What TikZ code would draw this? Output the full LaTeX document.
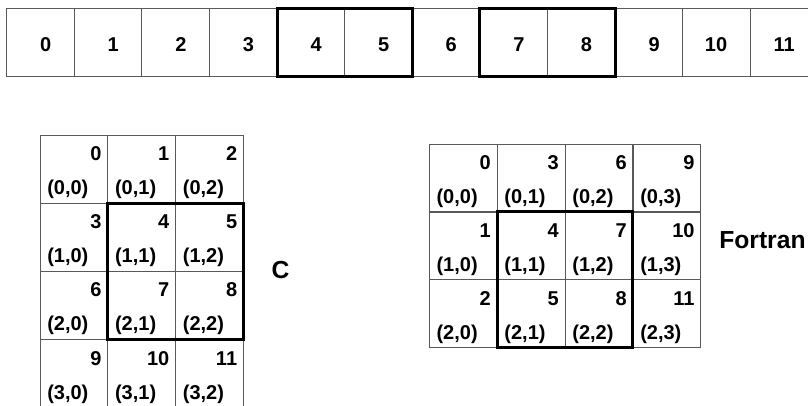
\documentclass[tikz,border=0pt]{standalone}
\usepackage{fontspec}
\setmainfont{Liberation Sans}[BoldFont={Liberation Sans Bold}]
\usetikzlibrary{fit,positioning}
\tikzset{
  cellbox/.style={draw=black!65,line width=0.75pt,minimum width=50.85pt,minimum height=51pt,inner sep=0pt,outer sep=0pt},
  rowcell/.style={cellbox,minimum width=50.7pt,minimum height=51.3pt},
  numlbl/.style={inner sep=0pt,font=\bfseries\fontsize{15}{17}\selectfont},
  idxlbl/.style={numlbl},
  rowlbl/.style={inner sep=0pt,font=\bfseries\fontsize{15}{17}\selectfont},
  hibox/.style={draw=black,line width=2.25pt,inner sep=0pt},
  langlbl/.style={inner sep=0pt,font=\bfseries\fontsize{18.5}{21}\selectfont},
}
\begin{document}
\begin{tikzpicture}[x=0.75pt,y=-0.75pt]
  \useasboundingbox (0,0) rectangle (808,405);
  \clip (0,0) rectangle (808,405);
  % memory as one row
  \foreach \i in {0,...,11}{
    \node[rowcell] (m\i) at (40.5+67.6*\i,42.5) {};
    \node[rowlbl,anchor=east] (mn\i) at ([xshift=8.25pt,yshift=-1.5pt]m\i.center) {\i};
  }
  \node[hibox,fit=(m4)(m5)] (mb1) {};
  \node[hibox,fit=(m7)(m8)] (mb2) {};
  % row-major (C)
  \foreach \r in {0,...,3}
    \foreach \c in {0,...,2}{
      \pgfmathtruncatemacro\n{3*\r+\c}
      \node[cellbox] (c\r\c) at (73.9+67.8*\c,169+68.1*\r) {};
      \node[numlbl,anchor=base east] (cn\r\c) at ([xshift=-4.5pt,yshift=-19.3pt]c\r\c.north east) {\n};
      \node[idxlbl,anchor=base west] (ci\r\c) at ([xshift=5.25pt,yshift=6.2pt]c\r\c.south west) {(\r,\c)};
    }
  \node[hibox,fit=(c11)(c22)] (cb) {};
  \node[langlbl] (cl) at (280.5,270) {C};
  % column-major (Fortran)
  \foreach \r in {0,...,2}
    \foreach \c in {0,...,3}{
      \pgfmathtruncatemacro\n{\r+3*\c}
      \node[cellbox] (f\r\c) at (463.2+67.9*\c,178+67.9*\r) {};
      \node[numlbl,anchor=base east] (fn\r\c) at ([xshift=-4.5pt,yshift=-19.3pt]f\r\c.north east) {\n};
      \node[idxlbl,anchor=base west] (fi\r\c) at ([xshift=5.25pt,yshift=6.2pt]f\r\c.south west) {(\r,\c)};
    }
  \node[hibox,fit=(f11)(f22)] (fb) {};
  \node[langlbl,anchor=base west] (fl) at (719,248.3) {Fortran};
\end{tikzpicture}
\end{document}
